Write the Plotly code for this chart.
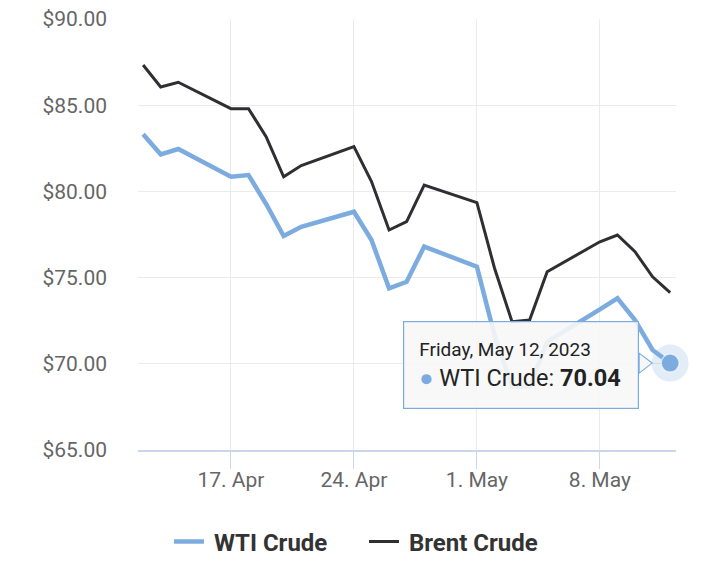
import plotly.graph_objects as go

dates = ["2023-04-12", "2023-04-13", "2023-04-14", "2023-04-17", "2023-04-18", "2023-04-19",
         "2023-04-20", "2023-04-21", "2023-04-24", "2023-04-25", "2023-04-26", "2023-04-27",
         "2023-04-28", "2023-05-01", "2023-05-02", "2023-05-03", "2023-05-04", "2023-05-05",
         "2023-05-08", "2023-05-09", "2023-05-10", "2023-05-11", "2023-05-12"]
wti = [83.31, 82.15, 82.46, 80.85, 80.95, 79.27, 77.41, 77.95, 78.82, 77.18, 74.38, 74.76,
       76.80, 75.63, 71.66, 68.67, 68.65, 71.28, 73.16, 73.80, 72.54, 70.80, 70.04]
brent = [87.33, 86.06, 86.33, 84.80, 84.80, 83.17, 80.85, 81.50, 82.60, 80.57, 77.76, 78.25,
         80.37, 79.35, 75.56, 72.44, 72.54, 75.34, 77.08, 77.47, 76.50, 75.05, 74.13]
x_ticks = ["2023-04-17", "2023-04-24", "2023-05-01", "2023-05-08"]
x_tick_labels = ["17. Apr", "24. Apr", "1. May", "8. May"]
y_ticks = [65, 70, 75, 80, 85, 90]
y_tick_labels = ["$65.00", "$70.00", "$75.00", "$80.00", "$85.00", "$90.00"]

WTI_C = "#7cacdf"
BRENT_C = "#2f2f33"
FONT = "Roboto"
TIP_BG = "rgba(247,247,247,0.9)"

fig = go.Figure()
fig.add_trace(go.Scatter(x=dates, y=wti, mode="lines", name="\u2009WTI Crude",
                         line=dict(color=WTI_C, width=4.5)))
fig.add_trace(go.Scatter(x=dates, y=brent, mode="lines", name="\u2009Brent Crude",
                         line=dict(color=BRENT_C, width=3)))
# hover highlight on last WTI point
fig.add_trace(go.Scatter(x=[dates[-1]], y=[wti[-1]], mode="markers", showlegend=False,
                         cliponaxis=False,
                         marker=dict(size=37, color="rgba(124,172,223,0.22)", line=dict(width=0)),
                         hoverinfo="skip"))
fig.add_trace(go.Scatter(x=[dates[-1]], y=[wti[-1]], mode="markers", showlegend=False,
                         cliponaxis=False,
                         marker=dict(size=18, color=WTI_C, line=dict(width=1.5, color="rgba(255,255,255,0.6)")),
                         hoverinfo="skip"))

# tooltip callout pointer, anchored to the hovered point
fig.add_shape(type="path", xref="x", yref="y", xsizemode="pixel", ysizemode="pixel",
              xanchor=dates[-1], yanchor=wti[-1],
              path="M -31,10 L -18,0 L -31,-10 Z",
              fillcolor="rgb(247,247,247)", line=dict(color=WTI_C, width=1.2), layer="above")

tip = ("<span style='font-size:19px'>Friday, May 12, 2023</span><br>"
       f"<span style='color:{WTI_C}'>●</span> WTI Crude: <b>{wti[-1]:.2f}</b>")
fig.add_annotation(x=dates[-1], y=wti[-1], xref="x", yref="y", text=tip,
                   showarrow=False, xshift=-149, yshift=-2,
                   align="left", valign="middle", width=204, height=56, borderpad=15,
                   bgcolor=TIP_BG, bordercolor=WTI_C, borderwidth=1.2,
                   font=dict(family=FONT, size=23.5, color="#222"))

fig.update_layout(
    width=720, height=568,
    margin=dict(l=138, r=44, t=19, b=118, autoexpand=False),
    plot_bgcolor="white", paper_bgcolor="white",
    font=dict(family=FONT, color="#666"),
    showlegend=True,
    legend=dict(orientation="h", x=0.5 + 4 / 720, xanchor="center", xref="container",
                y=1 - 542 / 568, yanchor="middle", yref="container",
                font=dict(family=FONT, size=24, color="#333", weight="bold"),
                itemwidth=30, entrywidth=150, entrywidthmode="pixels",
                tracegroupgap=0, bgcolor="rgba(0,0,0,0)"),
    hovermode=False,
)
fig.update_xaxes(type="date", range=["2023-04-11 17:00", "2023-05-12 08:00"],
                 tickvals=x_ticks, ticktext=x_tick_labels,
                 showgrid=True, gridcolor="#ebebeb", gridwidth=1,
                 showline=True, linecolor="#ccd6eb", linewidth=1.5,
                 ticks="outside", ticklen=17, tickcolor="#ccd6eb", tickwidth=1,
                 ticklabelstandoff=-7,
                 tickfont=dict(family=FONT, size=21, color="#666"), zeroline=False)
fig.update_yaxes(range=[65, 90], tickvals=y_ticks, ticktext=y_tick_labels,
                 showgrid=True, gridcolor="#ebebeb", gridwidth=1,
                 showline=False, ticks="", ticklabelstandoff=30,
                 tickfont=dict(family=FONT, size=21, color="#666"), zeroline=False)

fig.write_html("out.html", config={"displayModeBar": False},
               post_script="document.body.style.margin='0';document.body.style.overflow='hidden';")
